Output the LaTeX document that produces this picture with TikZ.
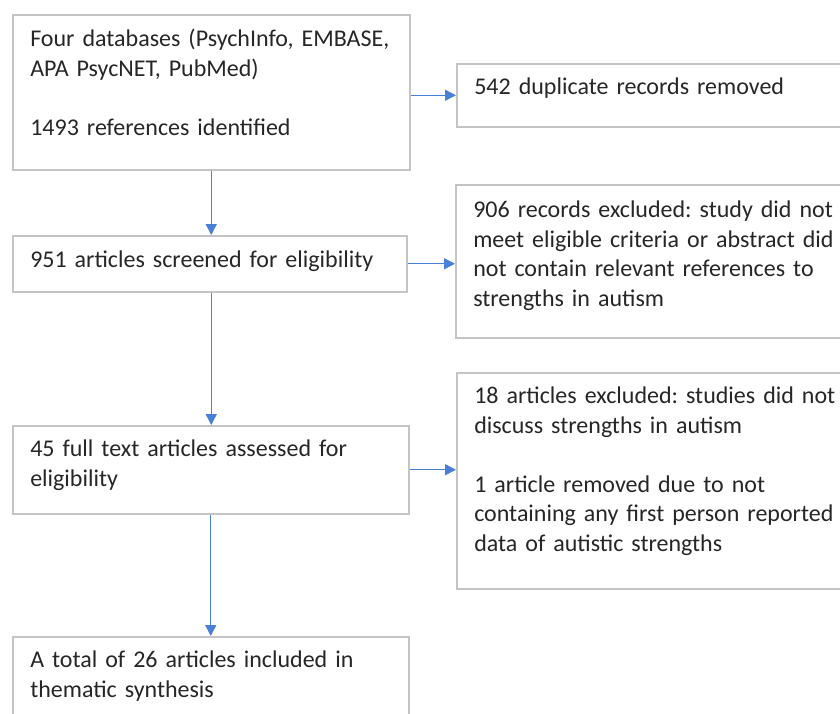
\documentclass[tikz,border=0pt]{standalone}
\usepackage{fontspec}
\setmainfont{Carlito}
\frenchspacing
\usetikzlibrary{positioning,arrows.meta,calc}
\definecolor{boxgray}{HTML}{C4C4C4}
\definecolor{flowblue}{HTML}{4A7FD6}
\definecolor{txtgray}{HTML}{262626}

\begin{document}
\begin{tikzpicture}[x=1pt,y=-1pt,>={Triangle[length=11pt,width=11pt]},
    stage/.style={draw=boxgray,line width=1.5pt,anchor=north west,align=left,inner xsep=17.5pt,inner ysep=0pt,text=txtgray,font=\fontsize{24}{29.5}\selectfont},
    flow/.style={->,draw=flowblue,line width=1.4pt}]
            \clip (0,0) rectangle (840,713);
            % left column
            \node[stage,text width=362pt,text height=32pt,text depth=123pt] (ident) at (12,14) {Four databases (PsychInfo, EMBASE,\\APA PsycNET, PubMed)\\[29.5pt]1493 references identified};
            \node[stage,text width=359pt,text height=32pt,text depth=24pt] (screen) at (12,235) {951 articles screened for eligibility};
            \node[stage,text width=361pt,text height=31pt,text depth=57pt] (fulltext) at (12,425) {45 full text articles assessed for\\eligibility};
            \node[stage,text width=361pt,text height=31pt,text depth=69pt] (synth) at (12,636) {A total of 26 articles included in\\thematic synthesis};
            % right column
            \node[stage,text width=400pt,text height=31pt,text depth=32pt] (dupl) at (456,63) {542 duplicate records removed};
            \node[stage,text width=400pt,text height=33pt,text depth=120pt] (recexcl) at (455,184) {906 records excluded: study did not\\meet eligible criteria or abstract did\\not contain relevant references to\\strengths in autism};
            \node[stage,text width=400pt,text height=31pt,text depth=185pt] (artexcl) at (456,372) {18 articles excluded: studies did not\\discuss strengths in autism\\[29.5pt]1 article removed due to not\\containing any first person reported\\data of autistic strengths};
            % arrows
            \draw[flow] (ident.east |- dupl.west) -- (dupl.west);
            \draw[flow] (ident.south) -- (ident.south |- screen.north);
            \draw[flow] (screen.east) -- (screen.east -| recexcl.west);
            \draw[flow] (ident.south |- screen.south) -- (ident.south |- fulltext.north);
            \draw[flow] (fulltext.east) -- (fulltext.east -| artexcl.west);
            \draw[flow] (fulltext.south) -- (fulltext.south |- synth.north);
        \end{tikzpicture}
\end{document}
